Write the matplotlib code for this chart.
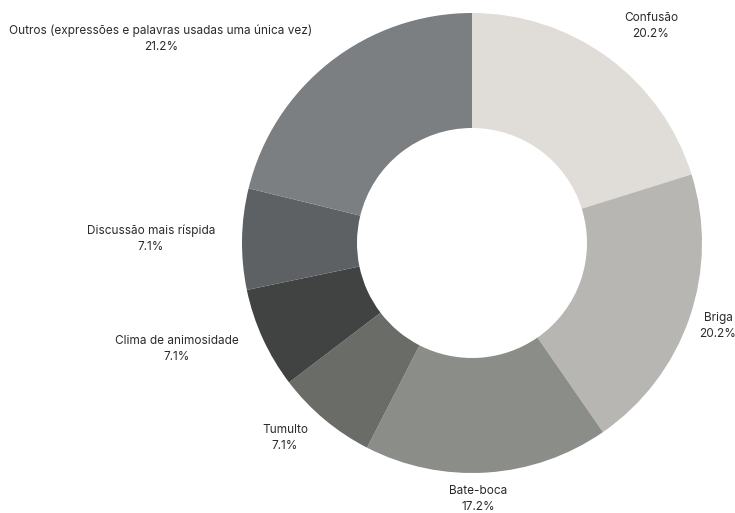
import matplotlib.pyplot as plt

plt.rcParams['font.family'] = ['Inter', 'DejaVu Sans']

categories = ['Confusão', 'Briga', 'Bate-boca', 'Tumulto', 'Clima de animosidade',
              'Discussão mais ríspida', 'Outros (expressões e palavras usadas uma única vez)']
shares = [20.2, 20.2, 17.2, 7.1, 7.1, 7.1, 21.2]

colors = ['#e0ddd9', '#b8b6b2', '#8b8d89', '#6a6c68', '#404341', '#5d6163', '#7b7f82']
# label block centres in pixels (x, y from top)
label_px = [(651, 26), (718, 326), (478, 499), (285, 438), (177, 349), (151, 239), (161, 39)]

W, H = 735, 513
fig = plt.figure(figsize=(W / 100, H / 100), dpi=100)
ax = fig.add_axes([0, 0, 1, 1])

cx, cy, R = 472, H - 243, 230
ax.pie(shares, colors=colors, startangle=90, counterclock=False,
       center=(cx, cy), radius=R, frame=True,
       wedgeprops=dict(width=R * 0.5, linewidth=0))
ax.set_xlim(0, W)
ax.set_ylim(0, H)
ax.set_aspect('equal')
ax.axis('off')

for name, v, (px, py) in zip(categories, shares, label_px):
    ax.text(px, H - py, f'{name}\n{v:.1f}%', ha='center', va='center',
            fontsize=8.5, color='#2b2b2b', linespacing=1.45)

fig.savefig('out.png', dpi=100, facecolor='white')
